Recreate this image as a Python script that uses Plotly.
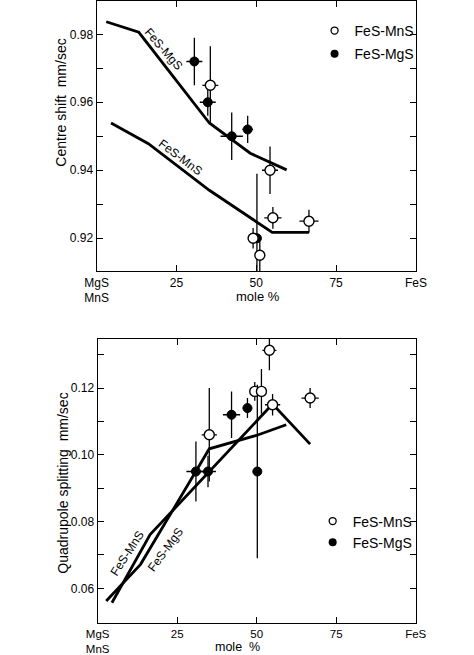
import plotly.graph_objects as go

FONT = "Liberation Sans, Arial, sans-serif"

# ---------------- Top panel: centre shift ----------------
cs_mns_x = [35.6, 54.3, 55.2, 66.5, 49.0, 51.1]
cs_mns_y = [0.965, 0.940, 0.926, 0.925, 0.920, 0.915]
cs_mns_xerr = [2.5, 2.5, 2.7, 3.0, 1.2, 1.0]
cs_mns_yerr = [0.0115, 0.007, 0.0032, 0.0034, 0.003, 0.005]

cs_mgs_x = [30.6, 34.8, 42.3, 47.3, 50.2]
cs_mgs_y = [0.972, 0.960, 0.950, 0.952, 0.920]
cs_mgs_xerr = [2.5, 2.5, 3.5, 1.7, 1.0]
cs_mgs_yerr = [0.007, 0.004, 0.007, 0.004, 0.019]

cs_line_mgs_x = [3.0, 13.2, 35.3, 48.1, 59.5]
cs_line_mgs_y = [0.9837, 0.9806, 0.9539, 0.9450, 0.9401]
cs_line_mns_x = [4.5, 16.2, 35.3, 55.0, 66.5]
cs_line_mns_y = [0.9539, 0.9478, 0.9341, 0.9217, 0.9217]

cs_yticks = [0.92, 0.93, 0.94, 0.95, 0.96, 0.97, 0.98]
cs_yticktext = ["0.92", "", "0.94", "", "0.96", "", "0.98"]

# ---------------- Bottom panel: quadrupole splitting ----------------
qs_mns_x = [54.0, 49.4, 51.5, 55.0, 66.8, 35.1]
qs_mns_y = [0.1313, 0.119, 0.119, 0.115, 0.117, 0.106]
qs_mns_xerr = [2.2, 1.0, 1.0, 2.4, 2.7, 2.4]
qs_mns_yerr = [0.006, 0.0028, 0.0067, 0.0032, 0.003, 0.014]

qs_mgs_x = [30.9, 34.7, 42.1, 47.1, 50.2]
qs_mgs_y = [0.095, 0.095, 0.112, 0.114, 0.095]
qs_mgs_xerr = [3.0, 2.5, 2.7, 1.5, 1.0]
qs_mgs_yerr = [0.009, 0.0047, 0.007, 0.003, 0.026]

qs_line_mgs_x = [2.7, 13.5, 35.1, 49.9, 59.3]
qs_line_mgs_y = [0.0562, 0.0672, 0.1018, 0.1058, 0.109]
qs_line_mns_x = [4.5, 16.5, 55.0, 66.8]
qs_line_mns_y = [0.0557, 0.0761, 0.1152, 0.1032]

qs_yticks = [0.06, 0.07, 0.08, 0.09, 0.10, 0.11, 0.12, 0.13]
qs_yticktext = ["0.06", "", "0.08", "", "0.10", "", "0.12", ""]

# ---------------- shared ----------------
x_tickvals = [0, 25, 50, 75, 100]
x_ticktext = ["MgS<br>MnS", "25", "50", "75", "FeS"]
series_names = ["FeS-MnS", "FeS-MgS"]

W, H = 474, 655


def px_x(p):
    return p / W


def px_y(p):
    return 1 - p / H


fig = go.Figure()


def add_panel(xa, ya, lmgs_x, lmgs_y, lmns_x, lmns_y,
              mns_x, mns_y, mns_xe, mns_ye, mgs_x, mgs_y, mgs_xe, mgs_ye, legend):
    for lx, ly in [(lmgs_x, lmgs_y), (lmns_x, lmns_y)]:
        fig.add_trace(go.Scatter(x=lx, y=ly, mode="lines", xaxis=xa, yaxis=ya,
                                 line=dict(color="black", width=2.8), showlegend=False,
                                 hoverinfo="skip"))
    err = dict(type="data", visible=True, width=0, thickness=1.3, color="black")
    fig.add_trace(go.Scatter(
        x=mgs_x, y=mgs_y, mode="markers", xaxis=xa, yaxis=ya, showlegend=False,
        error_x=dict(array=mgs_xe, **err), error_y=dict(array=mgs_ye, **err),
        marker=dict(symbol="circle", size=9, color="black", line=dict(color="black", width=1))))
    fig.add_trace(go.Scatter(
        x=mns_x, y=mns_y, mode="markers", xaxis=xa, yaxis=ya, showlegend=False,
        error_x=dict(array=mns_xe, **err), error_y=dict(array=mns_ye, **err),
        marker=dict(symbol="circle", size=10, color="white", line=dict(color="black", width=1.4))))
    # legend entries
    fig.add_trace(go.Scatter(x=[None], y=[None], mode="markers", xaxis=xa, yaxis=ya,
                             name=series_names[0], legend=legend, legendgroup=legend + "a",
                             marker=dict(symbol="circle", size=7, color="white",
                                         line=dict(color="black", width=1.3))))
    fig.add_trace(go.Scatter(x=[None], y=[None], mode="markers", xaxis=xa, yaxis=ya,
                             name=series_names[1], legend=legend, legendgroup=legend + "b",
                             marker=dict(symbol="circle", size=8, color="black")))


add_panel("x", "y", cs_line_mgs_x, cs_line_mgs_y, cs_line_mns_x, cs_line_mns_y,
          cs_mns_x, cs_mns_y, cs_mns_xerr, cs_mns_yerr,
          cs_mgs_x, cs_mgs_y, cs_mgs_xerr, cs_mgs_yerr, "legend")
add_panel("x2", "y2", qs_line_mgs_x, qs_line_mgs_y, qs_line_mns_x, qs_line_mns_y,
          qs_mns_x, qs_mns_y, qs_mns_xerr, qs_mns_yerr,
          qs_mgs_x, qs_mgs_y, qs_mgs_xerr, qs_mgs_yerr, "legend2")

axis_common = dict(showline=True, linecolor="black", linewidth=1.3, mirror="ticks",
                   ticks="inside", ticklen=6, tickwidth=1.3, tickcolor="black",
                   showgrid=False, zeroline=False)
tf12 = dict(tickfont=dict(family=FONT, size=12, color="black"))
tf11 = dict(tickfont=dict(family=FONT, size=11.5, color="black"))

fig.update_layout(
    width=W, height=H,
    margin=dict(l=0, r=0, t=0, b=0),
    paper_bgcolor="white", plot_bgcolor="white",
    font=dict(family=FONT, color="black"),
    xaxis=dict(domain=[px_x(89), px_x(424.5)], anchor="y", range=[0, 100],
               tickvals=x_tickvals, ticktext=x_ticktext, **axis_common, **tf12),
    yaxis=dict(domain=[px_y(272), px_y(1)], anchor="x", range=[0.9103, 0.9898],
               tickvals=cs_yticks, ticktext=cs_yticktext, **axis_common, **tf12),
    xaxis2=dict(domain=[px_x(90), px_x(424.3)], anchor="y2", range=[0, 100],
                tickvals=x_tickvals, ticktext=x_ticktext, **axis_common, **tf11),
    yaxis2=dict(domain=[px_y(625), px_y(340)], anchor="x2", range=[0.0496, 0.1347],
                tickvals=qs_yticks, ticktext=qs_yticktext, **axis_common, **tf12),
    legend=dict(x=px_x(318), y=px_y(15), xanchor="left", yanchor="top",
                font=dict(family=FONT, size=14), bgcolor="rgba(0,0,0,0)",
                traceorder="grouped", tracegroupgap=2),
    legend2=dict(x=px_x(316), y=px_y(507), xanchor="left", yanchor="top",
                 font=dict(family=FONT, size=14), bgcolor="rgba(0,0,0,0)",
                 traceorder="grouped", tracegroupgap=0),
    showlegend=True,
)

ann_font = dict(family=FONT, color="black")
annotations = [
    # axis titles
    dict(text="Centre shift  mm/sec", x=px_x(52), y=px_y(102.5), xref="paper", yref="paper",
         xanchor="center", yanchor="middle", textangle=-90, showarrow=False,
         font=dict(size=14, **ann_font)),
    dict(text="Quadrupole splitting  mm/sec", x=px_x(52.7), y=px_y(485), xref="paper", yref="paper",
         xanchor="center", yanchor="middle", textangle=-90, showarrow=False,
         font=dict(size=14, **ann_font)),
    dict(text="mole %", x=px_x(259), y=px_y(297), xref="paper", yref="paper",
         xanchor="center", yanchor="middle", showarrow=False, font=dict(size=13, **ann_font)),
    dict(text="mole  %", x=px_x(237), y=px_y(649), xref="paper", yref="paper",
         xanchor="center", yanchor="middle", showarrow=False, borderpad=0,
         font=dict(size=12.5, **ann_font)),
    # line labels
    dict(text="FeS-MgS", x=20.9, y=0.9756, xref="x", yref="y", textangle=49,
         xanchor="center", yanchor="middle", showarrow=False, font=dict(size=12, **ann_font)),
    dict(text="FeS-MnS", x=26.1, y=0.9438, xref="x", yref="y", textangle=37,
         xanchor="center", yanchor="middle", showarrow=False, font=dict(size=12, **ann_font)),
    dict(text="FeS-MnS", x=9.4, y=0.0705, xref="x2", yref="y2", textangle=-57,
         xanchor="center", yanchor="middle", showarrow=False, font=dict(size=12, **ann_font)),
    dict(text="FeS-MgS", x=21.2, y=0.0716, xref="x2", yref="y2", textangle=-54,
         xanchor="center", yanchor="middle", showarrow=False, font=dict(size=12, **ann_font)),
]
fig.update_layout(annotations=annotations)

fig.write_html("out.html")
